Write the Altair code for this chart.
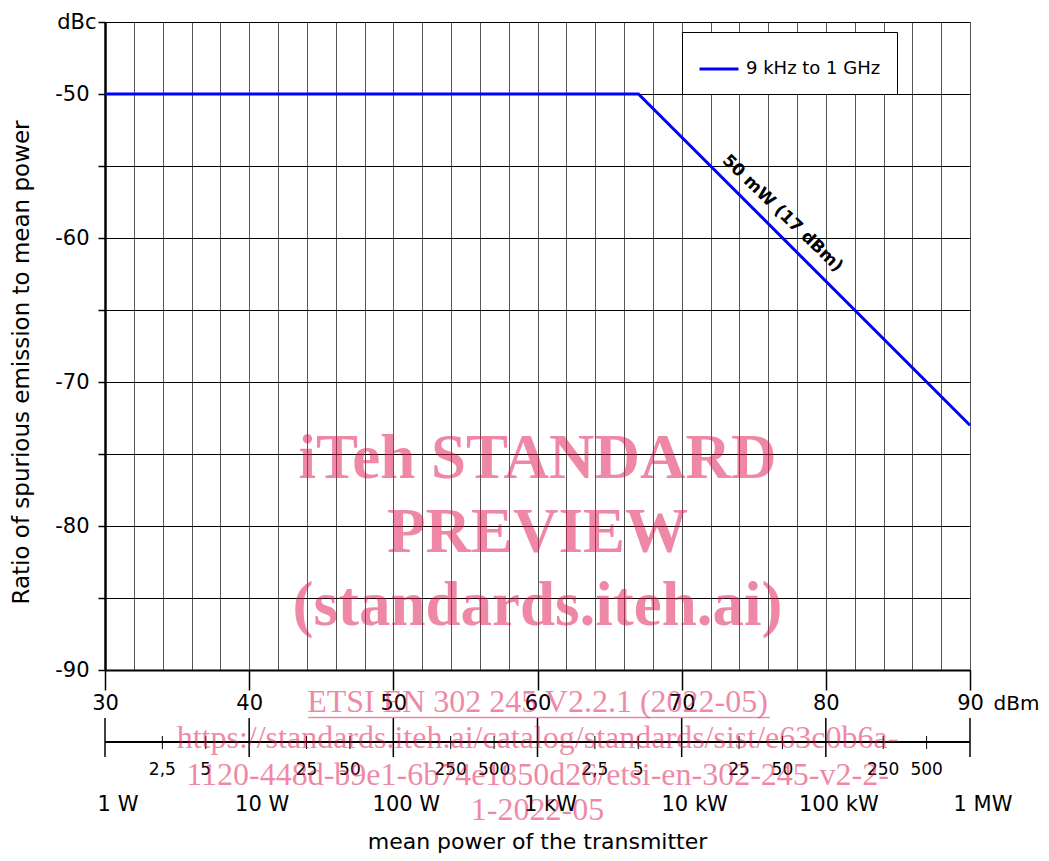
import altair as alt
import numpy as np
import pandas as pd

# ---------------- data ----------------
dbm = [30, 67, 90]
dbc = [-50, -50, -73]
series_name = "9 kHz to 1 GHz"

annot_text = ["50 mW (17 dBm)"]
annot_x = [77.0]
annot_y = [-58.3]

watt_major_w = [1, 10, 100, 1000, 10000, 100000, 1000000]
watt_major_labels = ["1 W", "10 W", "100 W", "1 kW", "10 kW", "100 kW", "1 MW"]
watt_minor_w = [2.5, 5, 25, 50, 250, 500, 2500, 5000, 25000, 50000, 250000, 500000]
watt_minor_labels = ["2,5", "5", "25", "50", "250", "500",
                     "2,5", "5", "25", "50", "250", "500"]

x_title = "dBm"
y_title = "Ratio of spurious  emission to mean power"
bottom_title = ["mean power of the transmitter"]
bottom_title_x = [60]

wm_big = ["iTeh STANDARD", "PREVIEW", "(standards.iteh.ai)"]
wm_big_y = [-76.7, -81.8, -86.9]
wm_small = ["ETSI EN 302 245 V2.2.1 (2022-05)",
            "https://standards.iteh.ai/catalog/standards/sist/e63c0b6a-",
            "1120-448d-b9e1-6b74e1850d26/etsi-en-302-245-v2-2-",
            "1-2022-05"]
wm_small_y = [-92.9, -95.4, -98.0, -100.4]
wm_x = 60
wm_underline_x = [44.1]
wm_underline_x2 = [76.1]
wm_underline_y = [-93.3]

# ---------------- styling ----------------
W, H = 865, 648
FONT = "DejaVu Sans"
WM_COLOR = "#E0144F"

xscale = alt.Scale(domain=[30, 90], nice=False, zero=False)
yscale = alt.Scale(domain=[-90, -45], nice=False, zero=False)

x_values = list(range(30, 91, 2))
y_values = list(range(-90, -44, 5))

x_axis = alt.Axis(
    values=x_values, tickCount=len(x_values),
    grid=True, gridColor="#555555", gridWidth=1, gridOpacity=1,
    labelExpr="datum.value % 10 === 0 ? '' + datum.value : ''",
    tickOpacity={"condition": {"test": "datum.value % 10 === 0", "value": 1}, "value": 0},
    tickSize=20, tickColor="black", tickWidth=1.5,
    labelFont=FONT, labelFontSize=21, labelColor="black", labelPadding=2,
    labelFlush=False, labelOverlap=False,
    domainColor="black", domainWidth=2,
    title=x_title, titleX=888, titleY=33, titleAlign="left", titleBaseline="middle",
    titleAngle=0, titleFont=FONT, titleFontSize=20, titleFontWeight="normal",
    titleColor="black",
)

y_axis = alt.Axis(
    values=y_values, tickCount=len(y_values),
    grid=True, gridColor="black", gridWidth=1, gridOpacity=1,
    labelExpr="datum.value === -45 ? 'dBc' : (datum.value % 10 === 0 ? '' + datum.value : '')",
    tickSize=7, tickColor="black", tickWidth=1.5,
    labelFont=FONT, labelFontSize=21, labelColor="black",
    labelPadding={"condition": {"test": "datum.value === -45", "value": 2}, "value": 9},
    labelFlush=False, labelOverlap=False,
    domainColor="black", domainWidth=2.5,
    title=y_title, titleX=-77, titleY=340, titleAngle=270, titleAlign="center",
    titleBaseline="alphabetic", titleFont=FONT, titleFontSize=23,
    titleFontWeight="normal", titleColor="black",
)

line_df = pd.DataFrame({"dbm": dbm, "dbc": dbc, "series": [series_name] * len(dbm)})

line = alt.Chart(line_df).mark_line(strokeWidth=3).encode(
    x=alt.X("dbm:Q", scale=xscale, axis=x_axis),
    y=alt.Y("dbc:Q", scale=yscale, axis=y_axis),
    color=alt.Color(
        "series:N",
        scale=alt.Scale(range=["#0000FF"]),
        title=None,
        legend=alt.Legend(
            orient="none", legendX=577, legendY=10,
            strokeColor="black", fillColor="white", padding=16,
            symbolType="stroke", symbolStrokeWidth=3, symbolSize=1521,
            labelFont=FONT, labelFontSize=18, labelColor="black", labelOffset=6,
        ),
    ),
)

annot_df = pd.DataFrame({"dbm": annot_x, "dbc": annot_y, "t": annot_text})
annot = alt.Chart(annot_df).mark_text(
    font=FONT, fontWeight="bold", fontSize=17, angle=44,
    align="center", baseline="middle", color="black",
).encode(x="dbm:Q", y="dbc:Q", text="t:N")

# ---- secondary (watts) axis, drawn from the watt values through the x scale ----
major_df = pd.DataFrame({
    "dbm": [10 * np.log10(w * 1000) for w in watt_major_w],
    "label": watt_major_labels,
})
minor_df = pd.DataFrame({
    "dbm": [10 * np.log10(w * 1000) for w in watt_minor_w],
    "label": watt_minor_labels,
})
axis_line_df = pd.DataFrame({"dbm": [major_df["dbm"].min()], "dbm2": [major_df["dbm"].max()]})

watt_line = alt.Chart(axis_line_df).mark_rule(color="black", strokeWidth=2).encode(
    x="dbm:Q", x2="dbm2:Q", y=alt.value(720)
)
watt_major_ticks = alt.Chart(major_df).mark_rule(color="black", strokeWidth=1.5).encode(
    x="dbm:Q", y=alt.value(696), y2=alt.value(735)
)
watt_minor_ticks = alt.Chart(minor_df).mark_rule(color="black", strokeWidth=1).encode(
    x="dbm:Q", y=alt.value(714), y2=alt.value(727)
)
watt_major_text = alt.Chart(major_df).mark_text(
    font=FONT, fontSize=21, align="center", baseline="middle", dx=13, color="black"
).encode(x="dbm:Q", y=alt.value(783), text="label:N")
watt_minor_text = alt.Chart(minor_df).mark_text(
    font=FONT, fontSize=17, align="center", baseline="middle", color="black"
).encode(x="dbm:Q", y=alt.value(748), text="label:N")

btitle_df = pd.DataFrame({"dbm": bottom_title_x, "t": bottom_title})
btitle = alt.Chart(btitle_df).mark_text(
    font=FONT, fontSize=22, align="center", baseline="alphabetic", color="black"
).encode(x="dbm:Q", y=alt.value(827), text="t:N")

# ---- watermark ----
wm_big_df = pd.DataFrame({"dbm": [wm_x] * len(wm_big), "dbc": wm_big_y, "t": wm_big})
wm_big_layer = alt.Chart(wm_big_df).mark_text(
    font="Liberation Serif", fontWeight="bold", fontSize=63, color=WM_COLOR,
    opacity=0.5, align="center", baseline="alphabetic",
).encode(x="dbm:Q", y="dbc:Q", text="t:N")

wm_small_df = pd.DataFrame({"dbm": [wm_x] * len(wm_small), "dbc": wm_small_y, "t": wm_small})
wm_small_layer = alt.Chart(wm_small_df).mark_text(
    font="Liberation Serif", fontSize=32, color=WM_COLOR,
    opacity=0.5, align="center", baseline="alphabetic",
).encode(x="dbm:Q", y="dbc:Q", text="t:N")

wm_ul_df = pd.DataFrame({"dbm": wm_underline_x, "dbm2": wm_underline_x2, "dbc": wm_underline_y})
wm_ul = alt.Chart(wm_ul_df).mark_rule(color=WM_COLOR, opacity=0.5, strokeWidth=1.5).encode(
    x="dbm:Q", x2="dbm2:Q", y="dbc:Q"
)

chart = alt.layer(
    line, annot,
    watt_line, watt_major_ticks, watt_minor_ticks, watt_major_text, watt_minor_text,
    btitle,
    wm_big_layer, wm_small_layer, wm_ul,
).properties(
    width=W, height=H,
    autosize=alt.AutoSizeParams(type="none"),
    padding={"left": 97, "top": 14, "right": 71, "bottom": 183},
).configure_view(
    stroke="black", strokeWidth=1.5
).configure(background="white")

chart.save("out.html", embed_options={"renderer": "svg", "actions": False})
